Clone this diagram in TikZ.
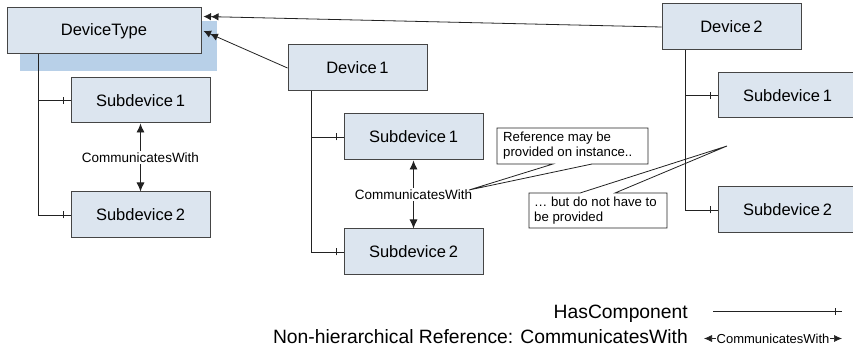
\documentclass[tikz,border=0pt]{standalone}
\usepackage{fontspec}
\setmainfont{Liberation Sans}
\usetikzlibrary{arrows.meta,decorations.markings,calc}
\definecolor{boxfill}{HTML}{DCE5EF}
\definecolor{boxline}{HTML}{454545}
\definecolor{shadowblue}{HTML}{B8D0E8}
\definecolor{linecol}{HTML}{222222}
\begin{document}
\begin{tikzpicture}[x=1pt,y=-1pt,
  box/.style={draw=boxline, fill=boxfill, line width=1pt, minimum width=139pt,
    minimum height=46pt, inner sep=0pt, font=\fontsize{16.5}{18}\selectfont},
  hascomp/.style={draw=linecol, line width=0.8pt,
    postaction={decorate, decoration={markings,
      mark=at position -7pt with {\draw[linecol, line width=0.8pt] (0,-3.5pt) -- (0,3.5pt);}}}},
  comm/.style={{Latex[length=9pt,width=8pt]}-{Latex[length=9pt,width=8pt]}, draw=linecol, line width=0.8pt},
  lbl/.style={fill=white, inner sep=1.5pt, font=\fontsize{13.5}{15}\selectfont},
  inh/.style={-{Latex[length=7.5pt,width=7.5pt]Latex[length=7.5pt,width=7.5pt]}, draw=linecol, line width=0.8pt},
  callout/.style={draw=linecol, fill=white, line width=0.8pt},
  ctext/.style={anchor=west, align=left, inner sep=0pt, font=\fontsize{13.2}{15}\selectfont},
  legtext/.style={anchor=base east, inner sep=0pt, font=\fontsize{19.3}{21}\selectfont}]
\useasboundingbox (0,0) rectangle (853,352);

% shadow of DeviceType
\fill[shadowblue] (20,21) rectangle (217,71);

% boxes
\node[box, minimum width=194pt] (dt) at (104,31) {DeviceType};
\node[box, minimum height=45pt] (ls1) at (140.5,100.5) {Subdevice\,1};
\node[box] (ls2) at (140.5,215) {Subdevice\,2};
\node[box] (d1) at (357.5,68) {Device\,1};
\node[box] (ms1) at (413.5,137) {Subdevice\,1};
\node[box] (ms2) at (413.5,252) {Subdevice\,2};
\node[box] (d2) at (731.5,27) {Device\,2};
\node[box, minimum height=45pt] (rs1) at (787.5,95.5) {Subdevice\,1};
\node[box] (rs2) at (787.5,210) {Subdevice\,2};

% type references
\coordinate (dta) at ($(dt.north east)+(2,9)$);
\coordinate (dtb) at ($(dt.east)+(2,0)$);
\draw[inh] (d2.west) -- (dta);
\draw[inh] (d1.west) -- (dtb);

% CommunicatesWith
\draw[comm] (ls1.south) -- node[lbl] {CommunicatesWith} (ls2.north);
\draw[comm] (ms1.south) -- node[lbl] {CommunicatesWith} (ms2.north);

% callouts
\coordinate (tip1) at (469,190);
\draw[callout] (497,128) -- (648,128) -- (648,164) -- (592,164) -- (tip1) -- (553,164) -- (497,164) -- cycle;
\node[ctext] (c1) at (503,146) {Reference may be\\provided on instance..};
\coordinate (tip2) at (727,146);
\draw[callout] (529,193) -- (580,193) -- (tip2) -- (615,193) -- (667,193) -- (667,228) -- (529,228) -- cycle;
\node[ctext] (c2) at (534,210.5) {… but do not have to\\be provided};

% HasComponent trunks
\coordinate (t1) at ($(dt.south west)+(32,0)$);
\coordinate (t2) at ($(d1.south west)+(24,0)$);
\coordinate (t3) at ($(d2.south west)+(24,0)$);
\draw[hascomp] (t1) |- (ls1.west);
\draw[hascomp] (t1) |- (ls2.west);
\draw[hascomp] (t2) |- (ms1.west);
\draw[hascomp] (t2) |- (ms2.west);
\draw[hascomp] (t3) |- (rs1.west);
\draw[hascomp] (t3) |- (rs2.west);

% legend
\node[legtext] (lg1) at (688,318) {HasComponent};
\node[legtext] (lg2) at (688,343) {Non-hierarchical Reference: CommunicatesWith};
\coordinate (la) at (713,311);
\coordinate (lb) at (842,311);
\draw[hascomp] (la) -- (lb);
\coordinate (lc) at (704,338.5);
\coordinate (ld) at (842,338.5);
\draw[{Latex[length=8pt,width=7pt]}-{Latex[length=8pt,width=7pt]}, draw=linecol, line width=0.6pt]
  (lc) -- node[fill=white, inner sep=0.3pt, font=\fontsize{13}{14}\selectfont] {CommunicatesWith} (ld);
\end{tikzpicture}
\end{document}
